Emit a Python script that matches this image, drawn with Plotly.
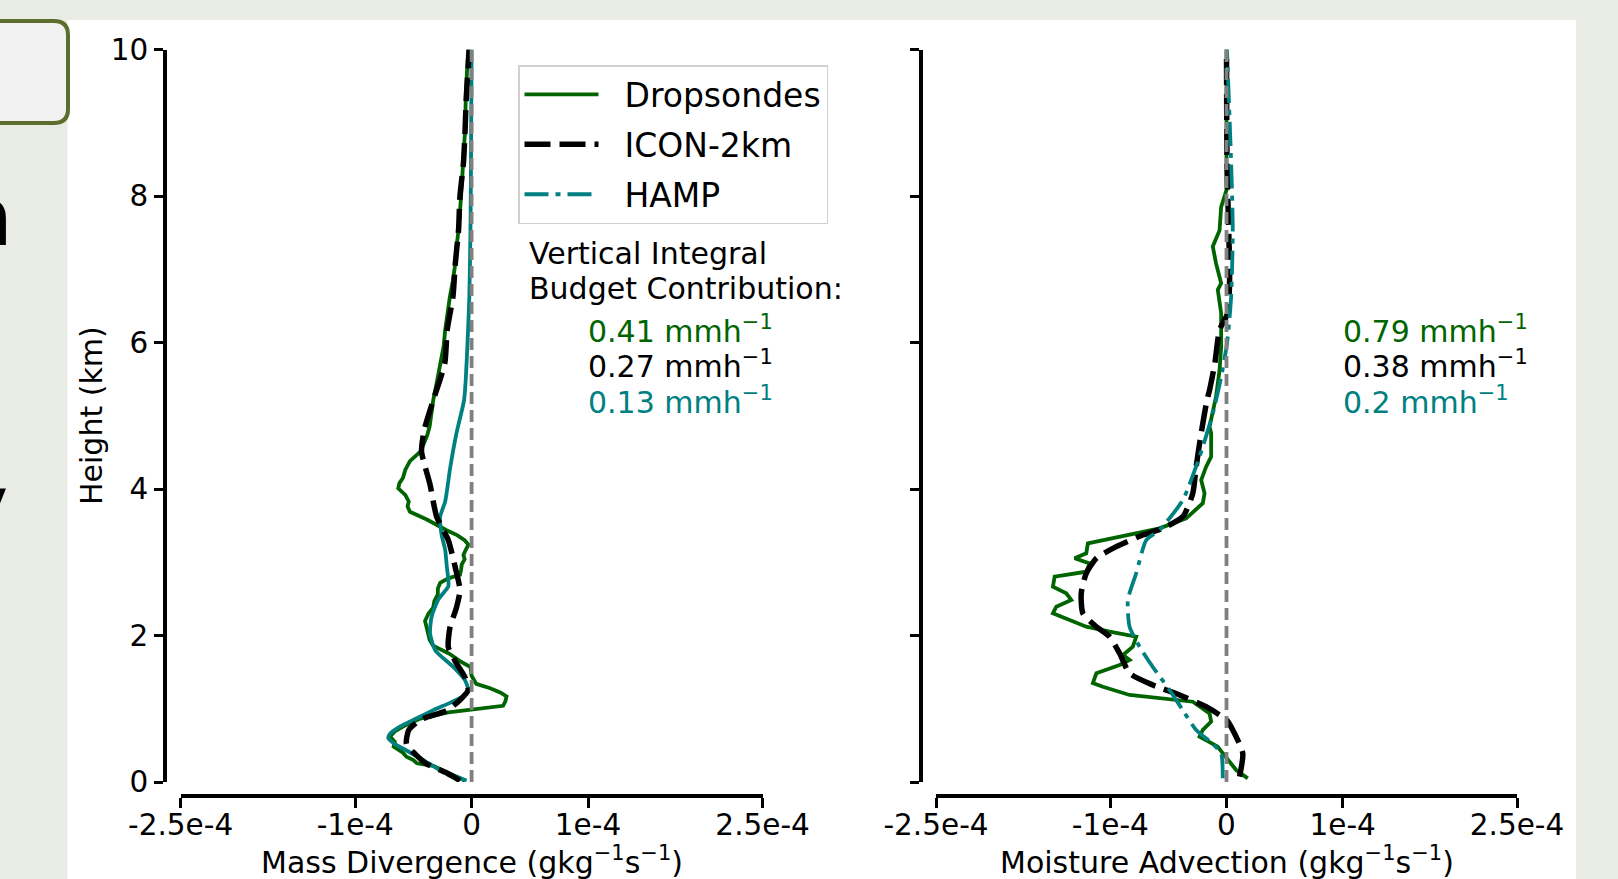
import plotly.graph_objects as go

W, H = 1618, 879

# ---------------- data (values in units of 1e-4 g kg^-1 s^-1, heights in km) ----------------
# Left panel: Mass Divergence
h_md_drop = [0.02, 0.05, 0.10, 0.164, 0.22, 0.255, 0.30, 0.346, 0.40, 0.483, 0.55, 0.62, 0.69, 0.756, 0.86,
             0.95, 1.0, 1.04, 1.10, 1.17, 1.22, 1.28, 1.34, 1.45, 1.57, 1.65, 1.75, 1.86, 1.94, 2.02, 2.10,
             2.2, 2.30, 2.38, 2.47, 2.56, 2.64, 2.72, 2.78, 2.83, 2.90, 2.97, 3.04, 3.10, 3.17, 3.24, 3.30,
             3.37, 3.44, 3.51, 3.58, 3.69, 3.76, 3.83, 3.92, 4.01, 4.08, 4.15, 4.26, 4.38, 4.51, 4.62, 4.74,
             4.86, 4.98, 5.21, 5.45, 5.72, 5.95, 6.17, 6.40, 6.63, 6.85, 7.08, 7.30, 7.54, 8.0, 8.45, 8.9,
             9.36, 10.0]
md_drop = [-0.06, -0.10, -0.17, -0.24, -0.33, -0.47, -0.50, -0.56, -0.59, -0.67, -0.66, -0.70, -0.66, -0.59, -0.45,
           -0.20, 0.05, 0.27, 0.29, 0.30, 0.25, 0.16, 0.04, 0.00, -0.01, -0.10, -0.19, -0.33, -0.36, -0.37, -0.38,
           -0.40, -0.37, -0.33, -0.32, -0.29, -0.29, -0.27, -0.20, -0.10, -0.09, -0.085, -0.06, -0.07, -0.05, -0.027, -0.06,
           -0.125, -0.22, -0.30, -0.38, -0.53, -0.55, -0.54, -0.57, -0.63, -0.62, -0.59, -0.57, -0.53, -0.44, -0.41, -0.38,
           -0.36, -0.35, -0.33, -0.30, -0.27, -0.24, -0.227, -0.21, -0.186, -0.16, -0.14, -0.13, -0.112, -0.09, -0.07, -0.056,
           -0.05, -0.03]

h_md_icon = [0.02, 0.12, 0.25, 0.39, 0.52, 0.71, 0.85, 0.98, 1.12, 1.255, 1.43, 1.62, 1.84, 2.11, 2.38, 2.62,
             2.94, 3.30, 3.62, 4.06, 4.51, 4.74, 4.85, 5.21, 5.72, 6.17, 6.63, 7.08, 7.54, 8.0, 8.45, 8.9, 9.36, 10.0]
md_icon = [-0.10, -0.21, -0.39, -0.49, -0.56, -0.54, -0.44, -0.21, -0.10, -0.03, -0.057, -0.13, -0.20, -0.186, -0.13, -0.10,
           -0.142, -0.20, -0.30, -0.357, -0.43, -0.415, -0.40, -0.33, -0.23, -0.21, -0.16, -0.14, -0.112, -0.10, -0.07, -0.056, -0.045, -0.02]

h_md_hamp = [0.02, 0.07, 0.16, 0.30, 0.43, 0.52, 0.60, 0.66, 0.756, 0.87, 0.98, 1.08, 1.17, 1.255, 1.39, 1.57,
             1.80, 2.03, 2.26, 2.49, 2.67, 2.76, 2.94, 3.17, 3.37, 3.62, 3.83, 4.28, 4.74, 5.21, 5.5, 6.0, 6.6,
             7.5, 8.5, 10.0]
md_hamp = [-0.043, -0.128, -0.27, -0.415, -0.56, -0.66, -0.716, -0.70, -0.616, -0.47, -0.33, -0.186, -0.07, -0.03, -0.057, -0.157,
           -0.313, -0.357, -0.343, -0.286, -0.20, -0.20, -0.213, -0.227, -0.257, -0.27, -0.227, -0.185, -0.133, -0.065, -0.05, -0.035, -0.02,
           -0.01, -0.005, 0.0]

# Right panel: Moisture Advection
h_ma_drop = [0.05, 0.164, 0.392, 0.482, 0.619, 0.71, 0.823, 0.937, 1.096, 1.142, 1.188, 1.30, 1.35, 1.484, 1.597, 1.666,
             1.734, 1.847, 1.984, 2.052, 2.12, 2.303, 2.394, 2.485, 2.576, 2.667, 2.803, 2.871, 2.985, 3.054, 3.122, 3.258,
             3.349, 3.463, 3.60, 3.805, 3.941, 4.123, 4.305, 4.441, 4.76, 4.85, 5.26, 5.62, 5.94, 6.40, 6.72, 6.81,
             7.08, 7.31, 7.53, 7.85, 8.08, 9.0, 10.0]
ma_drop = [0.183, 0.083, -0.032, -0.075, -0.232, -0.204, -0.132, -0.146, -0.29, -0.576, -0.834, -1.064, -1.15, -1.12, -0.92, -0.834,
           -0.89, -0.806, -0.777, -1.006, -1.207, -1.494, -1.465, -1.336, -1.379, -1.494, -1.479, -1.207, -1.178, -1.307, -1.207, -1.193,
           -0.92, -0.576, -0.347, -0.204, -0.189, -0.218, -0.175, -0.132, -0.132, -0.146, -0.09, -0.06, -0.046, -0.046, -0.075, -0.046,
           -0.09, -0.118, -0.06, -0.046, 0.0, -0.003, 0.0]

h_ma_icon = [0.073, 0.392, 0.71, 0.846, 1.028, 1.188, 1.324, 1.484, 1.757, 1.984, 2.12, 2.303, 2.576, 2.849, 3.054, 3.213,
             3.372, 3.463, 3.622, 3.941, 4.305, 4.76, 5.2, 5.35, 5.72, 6.17, 6.40, 6.8, 7.08, 8.45, 10.0]
ma_icon = [0.112, 0.14, 0.054, 0.0, -0.175, -0.404, -0.634, -0.834, -0.92, -1.006, -1.12, -1.236, -1.25, -1.207, -1.12, -0.949,
           -0.72, -0.548, -0.376, -0.29, -0.261, -0.218, -0.17, -0.146, -0.10, -0.06, 0.01, 0.026, 0.026, 0.005, 0.0]

h_ma_hamp = [0.05, 0.392, 0.52, 0.71, 0.98, 1.256, 1.57, 1.847, 2.12, 2.485, 2.849, 3.304, 3.44, 3.85, 4.441, 5.03,
             5.53, 5.94, 6.17, 6.63, 7.53, 8.45, 10.0]
ma_hamp = [-0.032, -0.046, -0.118, -0.261, -0.376, -0.49, -0.634, -0.748, -0.834, -0.849, -0.777, -0.69, -0.576, -0.376, -0.232, -0.118,
           -0.046, 0.0, 0.017, 0.04, 0.054, 0.04, 0.004]

zero_x = [0, 0]
zero_h = [0, 10]

x_tickvals = [-2.5, -1, 0, 1, 2.5]
x_ticktext = ["-2.5e-4", "-1e-4", "0", "1e-4", "2.5e-4"]
y_tickvals = [0, 2, 4, 6, 8, 10]
y_ticktext = ["0", "2", "4", "6", "8", "10"]

budget_left = ["0.41", "0.27", "0.13"]
budget_right = ["0.79", "0.38", "0.2"]

SCALE = 1e-4
GREEN = "#006400"
TEAL = "#008080"
GREY = "#808080"
FONT = "DejaVu Sans"
NB = "\u00a0\u00a0"  # gap between legend key and label


def sc(vals):
    return [v * SCALE for v in vals]


def px(p):
    return p / W


def py(p):
    return 1 - p / H


fig = go.Figure()

# left panel
fig.add_trace(go.Scatter(x=sc(md_drop), y=h_md_drop, xaxis="x", yaxis="y", mode="lines",
                         line=dict(color=GREEN, width=3.8), showlegend=False, legendgroup="d"))
fig.add_trace(go.Scatter(x=sc(md_hamp), y=h_md_hamp, xaxis="x", yaxis="y", mode="lines",
                         line=dict(color=TEAL, width=3.8, shape="spline", smoothing=0.6),
                         showlegend=False, legendgroup="h"))
fig.add_trace(go.Scatter(x=sc(md_icon), y=h_md_icon, xaxis="x", yaxis="y", mode="lines",
                         line=dict(color="black", width=5.5, dash="24px,9px", shape="spline", smoothing=0.6),
                         showlegend=False, legendgroup="i"))
# right panel
fig.add_trace(go.Scatter(x=sc(ma_drop), y=h_ma_drop, xaxis="x2", yaxis="y2", mode="lines", name=NB + "Dropsondes",
                         line=dict(color=GREEN, width=3.8), legendgroup="d", legendrank=1))
fig.add_trace(go.Scatter(x=sc(ma_icon), y=h_ma_icon, xaxis="x2", yaxis="y2", mode="lines", name=NB + "ICON-2km",
                         line=dict(color="black", width=5.5, dash="26px,9px", shape="spline", smoothing=0.6),
                         legendgroup="i", legendrank=2))
fig.add_trace(go.Scatter(x=sc(ma_hamp), y=h_ma_hamp, xaxis="x2", yaxis="y2", mode="lines", name=NB + "HAMP",
                         line=dict(color=TEAL, width=3.8, dash="24px,7px,5px,7px", shape="spline", smoothing=0.6),
                         legendgroup="h", legendrank=3))
# zero lines
for xa, ya in (("x", "y"), ("x2", "y2")):
    fig.add_trace(go.Scatter(x=zero_x, y=zero_h, xaxis=xa, yaxis=ya, mode="lines",
                             line=dict(color=GREY, width=3.8, dash="12px,6px"), showlegend=False,
                             hoverinfo="skip"))

xcommon = dict(range=[-2.5 * SCALE, 2.5 * SCALE], tickvals=sc(x_tickvals), ticktext=x_ticktext,
               showgrid=False, zeroline=False, showline=True, linewidth=3.5, linecolor="black",
               ticks="outside", ticklen=10, tickwidth=3, tickcolor="black", anchor="free",
               position=1 - 796 / H, automargin=False, ticklabelstandoff=-8,
               tickfont=dict(family=FONT, size=29.5, color="black"))
ycommon = dict(range=[0, 10], tickvals=y_tickvals, ticktext=y_ticktext, showgrid=False, zeroline=False,
               showline=True, linewidth=3.5, linecolor="black", ticks="outside", ticklen=9, tickwidth=3,
               tickcolor="black", anchor="free", domain=[py(782), py(49.5)], automargin=False,
               tickfont=dict(family=FONT, size=29.5, color="black"))

fig.update_layout(
    width=W, height=H, margin=dict(l=0, r=0, t=0, b=0, pad=0, autoexpand=False),
    paper_bgcolor="#e9ece4", plot_bgcolor="rgba(0,0,0,0)",
    font=dict(family=FONT, color="black"),
    xaxis=dict(domain=[px(180.6), px(762.6)], **xcommon),
    xaxis2=dict(domain=[px(936), px(1517)], **xcommon),
    yaxis=dict(position=px(165), **ycommon),
    yaxis2=dict(position=px(920.5), showticklabels=False, **ycommon),
    legend=dict(x=px(518), y=py(65), xanchor="left", yanchor="top", bgcolor="white",
                bordercolor="#d0d0d0", borderwidth=1.5, font=dict(family=FONT, size=33, color="black"),
                traceorder="grouped", tracegroupgap=4, itemwidth=74),
    showlegend=True,
)

# background panels
shapes = [
    dict(type="rect", xref="paper", yref="paper", x0=px(67.5), x1=px(1576), y0=0, y1=py(20),
         fillcolor="white", line=dict(width=0), layer="below"),
]
xl, xr, yt, yb = px(-30), px(68), py(21), py(123)
rx, ry = px(14), 14 / H
path = (f"M {xl},{yt} L {xr - rx},{yt} Q {xr},{yt} {xr},{yt - ry} L {xr},{yb + ry} "
        f"Q {xr},{yb} {xr - rx},{yb} L {xl},{yb} Z")
shapes.append(dict(type="path", xref="paper", yref="paper", path=path, fillcolor="#f2f2f2",
                   line=dict(color="#5b6e2d", width=4), layer="below"))
fig.update_layout(shapes=shapes)

ann = []
unit = " mmh<sup>−1</sup>"
ann.append(dict(text="Height (km)", x=px(91), y=py(416), textangle=-90, font=dict(size=30)))
ann.append(dict(text="Mass Divergence (gkg<sup>−1</sup>s<sup>−1</sup>)", x=px(471.6), y=py(860), font=dict(size=30)))
ann.append(dict(text="Moisture Advection (gkg<sup>−1</sup>s<sup>−1</sup>)", x=px(1227), y=py(860), font=dict(size=30)))
ann.append(dict(text="Vertical Integral", x=px(527), y=py(254), xanchor="left", font=dict(size=30)))
ann.append(dict(text="Budget Contribution:", x=px(527), y=py(288), xanchor="left", font=dict(size=30)))
for i, (vl, vr, col) in enumerate(zip(budget_left, budget_right, [GREEN, "black", TEAL])):
    yy = py([331, 366, 402][i] - 2)
    ann.append(dict(text=vl + unit, x=px(586), y=yy, xanchor="left", font=dict(size=30, color=col)))
    ann.append(dict(text=vr + unit, x=px(1341), y=yy, xanchor="left", font=dict(size=30, color=col)))
# cut-off slide text fragments at the left edge
ann.append(dict(text="n", x=px(15), y=py(217), xanchor="right", font=dict(size=80)))
ann.append(dict(text="y", x=px(10), y=py(504), xanchor="right", font=dict(size=80)))
for a in ann:
    a.setdefault("xref", "paper")
    a.setdefault("yref", "paper")
    a.setdefault("showarrow", False)
    a.setdefault("xanchor", "center")
    a.setdefault("yanchor", "middle")
    a["font"] = dict(family=FONT, color=a["font"].get("color", "black"), size=a["font"]["size"])
fig.update_layout(annotations=ann)

fig.write_html("out.html")
